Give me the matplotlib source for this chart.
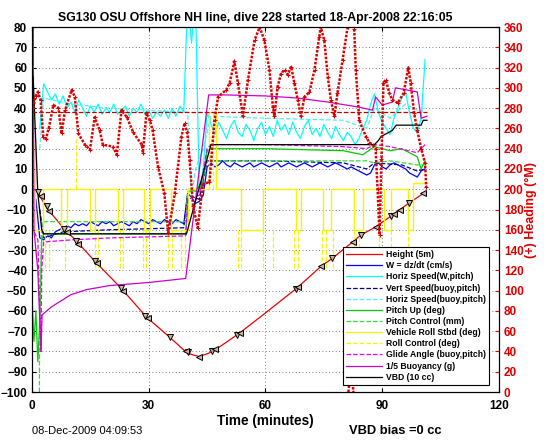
import numpy as np
import matplotlib.pyplot as plt

plt.rcParams['font.family'] = ['Liberation Sans', 'DejaVu Sans']
plt.rcParams['font.weight'] = 'bold'
plt.rcParams['axes.linewidth'] = 0.8

nan = np.nan

# ---- dive data, left axis units (minutes) ----
# height (depth / 5 m)
t_height = [0, 1, 1.6, 3.8, 8.3, 11.4, 16.1, 23, 29.4, 35.4, 39.7, 41.5, 43, 44.5, 46.5, 53.3,
            60, 67.9, 74.3, 77.2, 82.4, 84.5, 88.4, 92.6, 96.9, 101]
height = [0, -0.5, -1.9, -9.3, -19.6, -25.5, -35.4, -49, -63, -73, -80.5, -81.8, -82.5, -81.5, -80, -71,
          -61, -49, -38, -34, -26, -22.6, -18.5, -12.7, -6.8, -1.5]

# triangle markers on the height trace
tri_down_t = [1.6, 3.8, 8.3, 11.4, 16.1, 22.8, 29.1, 35.4, 40.1, 46.3, 52.8, 67.9, 77.2, 84.5, 92.3, 96.9]
tri_down_v = [-1.5, -8.5, -19.6, -25.5, -35.4, -48.6, -62.5, -73, -80.5, -80, -72, -49, -34, -22.6, -13, -6.8]
tri_left_t = [2.4, 4.4, 8.9, 11.9, 16.7, 23.5, 29.7, 39.5, 43, 47, 53.5, 68.4, 74.3, 82.4, 88.4, 92.9, 94.5, 100.5]
tri_left_v = [-3.5, -10.5, -21, -27, -36.5, -50, -63.5, -80, -82.5, -79, -71, -48.2, -38, -26, -18.5, -12.2, -10, -2]

# one-minute samples, minute 0 .. 102
w_dzdt = [nan, -5, -24, -25, -23, -24, -21, -20, -19, -18, -19, -17, -18, -17, -18, -16, -17, -18, -16, -17,
          -16, -18, -17, -16, -17, -18, -16, -17, -15, -16, -17, -15, -16, -17, -15, -16, -17, -15, -16, -17,
          -2, -4, -7, -6, -3, 11, 13, 11, 12, 14, 12, 11, 13, 12, 11, 12, 13, 11, 12, 13,
          12, 11, 12, 13, 11, 12, 13, 12, 11, 12, 13, 12, 11, 12, 13, 12, 11, 12, 13, 12,
          11, 10, 11, 10, 9, 8, 7, 8, 12, 13, 11, 10, 12, 13, 12, 11, 10, 8, 7, 6,
          9, 10, nan]
horiz_speed = [nan, nan, 30, 52, 48, 44, 47, 42, 46, 40, 43, 38, 44, 40, 36, 41, 38, 42, 37, 40,
               38, 42, 37, 39, 41, 36, 40, 38, 42, 37, 39, 35, 38, 36, 39, 35, 40, 36, 41, 38,
               95, 72, 95, -3, 10, 38, 32, 27, 33, 29, 25, 31, 34, 28, 26, 32, 29, 24, 30, 33,
               27, 31, 26, 34, 29, 32, 27, 33, 28, 25, 31, 34, 27, 30, 26, 32, 28, 25, 31, 27,
               24, 28, 26, 22, 25, 30, 34, 42, 47, 38, 33, 30, 27, 35, 40, 45, 48, 38, 30, 28,
               35, 64, nan]

# slower model outputs (breakpoints)
t_vspeed = [2, 3, 8, 20, 39, 40, 43, 45, 60, 80, 86, 88, 95, 99, 101]
vspeed = [-10, -24, -21, -20, -19, -3, -5, 14, 14, 13, 10, 13, 12, 9, 10]
t_hspeed_b = [2, 3, 10, 20, 39, 40, 41, 42, 44, 46, 60, 80, 86, 88, 92, 96, 100, 101]
hspeed_b = [20, 45, 42, 40, 38, 38, -5, 10, 20, 36, 35, 34, 30, 40, 35, 42, 38, 40]
t_pitch = [0, 0.5, 1, 1.5, 2, 2.5, 3, 10, 20, 39.5, 40.3, 42, 43, 44, 45, 46, 60, 80, 85, 88, 92, 95,
           99, 100, 101]
pitch = [-52, -75, -60, -85, -65, -25, -22, -22, -22, -22, 0, -1, 2, 5, 19, 20, 20, 19, 17, 21, 19, 20,
         16, 10, 14]
t_pitch_ctl = [1.9, 1.95, 2.5, 39.5, 40, 43, 45, 46, 86, 88, 92, 99, 101]
pitch_ctl = [-100, -70, -16, -16, -1, -1, 14, 14, 14, 13, 14, 12, 12]
t_roll = [0, 0.8, 2.8, 7.5, 9.1, 14.8, 16.1, 22.1, 23.3, 28.9, 30.2, 35.7, 40, 43, 45.5, 47.4, 53.8,
          59.3, 67.9, 69.1, 74.7, 76.8, 82.8, 85, 90.5, 92.3, 96.5, 98, 101.5]
roll = [22, -20, 0, -20, 0, -20, 0, -20, 0, -20, 0, -20, 0, 0, 38, 0, -20,
        0, -20, 0, -20, 0, -20, 0, -20, 0, -20, 3, 3]
# roll control spikes: (minute, from, to)
roll_ctl_spikes = [(3.3, -20, -40), (4.4, -20, -40), (8.5, -20, -40), (16.1, -20, -40), (16.9, -20, -40),
                   (22.6, -20, -40), (23.3, -20, -40), (28.6, -20, -40), (29.4, -20, -40), (35, -20, -40),
                   (36, -20, -40), (38.4, -20, -40), (39.2, -20, -40), (52.9, -20, -40), (53.8, -20, -40),
                   (59.3, -20, -40), (61.9, -20, -40), (67.4, -20, -40), (68.3, -20, -40), (74.6, -20, -40),
                   (75.6, -20, -40), (77.3, -20, -40), (82.8, -20, -40), (84.1, -20, -40), (89.2, -20, -40),
                   (92.2, -20, -40), (96.5, -20, -40), (0.8, 0, 25), (11.2, 0, 25), (46.5, 0, 38)]
t_glide = [0.3, 0.35, 1.5, 2.3, 2.5, 3, 10, 20, 39.5, 40, 43, 45, 46, 60, 80, 86, 88, 92, 99, 101]
glide = [80, -20, -25, -80, -40, -26, -25, -24, -23, -5, -3, 20, 22, 22, 21, 20, 22, 21, 18, 22]
t_buoy = [0, 0.3, 0.5, 1.5, 2.3, 2.6, 5, 10, 14, 20, 30, 39.5, 45.4, 50, 60, 68, 76, 84, 87.5, 88.3,
          90, 92.6, 93.4, 99, 100, 101.5]
buoy = [95, 90, -20, -40, -80, -62, -58, -52, -49.5, -47.5, -46, -44, 46.5, 46.5, 46, 45, 43, 40.5, 39, 45.5,
        41.5, 43, 50, 48, 35, 36]
t_vbd = [0, 0.3, 1.5, 2.5, 3, 39.7, 46, 88, 89, 89.7, 92.6, 93.6, 100, 100.5, 101.5]
vbd = [57, 55, -2, -20, -22, -22, 22, 22, 24, 26, 29, 31.6, 31.6, 34, 34]

# heading (deg magnetic), right axis; nan breaks at the 360/0 wrap
t_heading = [0.3, 1.0, 1.5, 2.2, 2.9, 3.6, 4.3, 5.5, 6.8, 7.6, 8.5, 10.2, 11, 11.9, 13.6, 14.9, 16.1, 17.4,
             18.2, 20.8, 21.8, 23, 24.4, 26, 28.2, 28.5, 29.4, 30.3, 31, 32.4, 34, 35, 36.7, 38.4, 39.2,
             39.9, 40.5, 41.4, 42.6, 43.9, 45.6, 46.9, 47.8, 49.9, 50.8, 52, 52.9, 54.2, 55.5, 57.2, 58.5,
             59.7, 61, 61.9, 62.3, 63.1, 64, 64.9, 65.7, 66.6, 67.4, 68.3, 69.1, 70, 71.3, 72.6, 73.8, 74.2,
             75.1, 76, 76.8, 77.7, 78.5, 79.8, 81.1, 81.2, 81.3, 81.7, 82, 82.3, 82.6, 82.7, 82.8, 83.2, 84.1,
             85.8, 86.7, 87.5, 88.3, 88.8, 89.3, 89.8, 90.3, 90.9, 91.8, 92.6, 94, 95.5, 96.7, 97.3, 98.2,
             99, 100, 101, 101.3]
heading = [280, 292, 296, 288, 252, 250, 260, 283, 280, 255, 278, 298, 291, 255, 244, 239, 271, 258,
           244, 242, 234, 278, 271, 256, 244, 236, 275, 268, 258, 222, 196, 157, 196, 252, 265,
           256, 229, 183, 162, 205, 207, 268, 291, 298, 305, 326, 305, 272, 308, 347, 360,
           347, 318, 281, 272, 301, 314, 318, 313, 321, 305, 288, 272, 291, 296, 318, 350, 360,
           347, 311, 288, 272, 295, 327, 360, nan, 0, 15, 28, 12, 0, nan, 358, 318, 268,
           252, 246, 244, 240, 200, 155, 230, 305, 308, 295, 288, 285, 295, 320, 305, 275,
           258, 240, 226, 202]
target_heading = 276
dive_end = 101.5

labels = ['Height (5m)', 'W = dz/dt (cm/s)', 'Horiz Speed(W,pitch)', 'Vert Speed(buoy,pitch)',
          'Horiz Speed(buoy,pitch)', 'Pitch Up (deg)', 'Pitch Control (mm)', 'Vehicle Roll Stbd (deg)',
          'Roll Control (deg)', 'Glide Angle (buoy,pitch)', '1/5 Buoyancy (g)', 'VBD (10 cc)']

fig = plt.figure(figsize=(5.46, 4.42), dpi=100)
ax = fig.add_axes([0.0586, 0.1131, 0.8553, 0.8258])

mins = np.arange(len(w_dzdt))
lw = 0.9
h = []
h += ax.plot(t_height, height, color='#ee0000', lw=lw)
h += ax.plot(mins, w_dzdt, color='#0000ff', lw=lw)
h += ax.plot(np.arange(len(horiz_speed)), horiz_speed, color='#00ffff', lw=lw)
h += ax.plot(t_vspeed, vspeed, color='#00008b', lw=lw, ls='--')
h += ax.plot(t_hspeed_b, hspeed_b, color='#55eeee', lw=lw, ls='--')
h += ax.plot(t_pitch, pitch, color='#00cc00', lw=lw)
h += ax.plot(t_pitch_ctl, pitch_ctl, color='#33dd33', lw=lw, ls='--')
h += ax.plot(t_roll, roll, color='#f5f500', lw=lw, drawstyle='steps-post')
h += ax.plot(t_roll, roll, color='#f5f500', lw=lw, ls='--', drawstyle='steps-post')
for tt, lo, hi in roll_ctl_spikes:
    ax.plot([tt, tt], [lo, hi], color='#f5f500', lw=lw, ls='--')
h += ax.plot(t_glide, glide, color='#ee00ee', lw=lw, ls='--')
h += ax.plot(t_buoy, buoy, color='#cc00cc', lw=lw)
h += ax.plot(t_vbd, vbd, color='black', lw=lw)
ax.plot(tri_down_t, tri_down_v, 'v', ms=4.5, mfc='#c8b4a0', mec='black', mew=0.7)
ax.plot(tri_left_t, tri_left_v, '<', ms=4.5, mfc='#c8b4a0', mec='black', mew=0.7)

ax.set_xlim(0, 120)
ax.set_ylim(-100, 80)
ax.set_xticks([0, 30, 60, 90, 120])
ax.set_yticks(np.arange(-100, 81, 10))
ax.tick_params(direction='in', labelsize=8.5, top=True, length=3)
ax.tick_params(axis='x', pad=6)
ax.grid(True, ls=(0, (1, 3)), color='#555555', lw=0.6)
ax.set_xlabel('Time (minutes)', fontsize=9.8, fontweight='bold', labelpad=1)
ax.set_title('SG130 OSU Offshore NH line, dive 228 started 18-Apr-2008 22:16:05',
             fontsize=8.8, fontweight='bold', pad=4, x=0.477)

ax2 = ax.twinx()
ax2.plot([0, dive_end], [target_heading, target_heading], color='#bb0000', lw=0.9, ls='--')
ax2.plot(t_heading, heading, color='#dd0000', lw=1.8, ls=(0, (1, 0.6)))
ax2.plot(t_heading, heading, '+', color='#dd0000', ms=3, mew=0.8)
ax2.set_ylim(0, 360)
ax2.set_yticks(np.arange(0, 361, 20))
ax2.tick_params(direction='in', colors='#dd0000', labelsize=8.5, length=3)
ax2.spines['right'].set_color('black')
ax2.set_ylabel('(+) Heading (\u00b0M)', color='#dd0000', fontsize=9, fontweight='bold', labelpad=1)

leg = ax2.legend(h, labels, loc='lower right', bbox_to_anchor=(0.988, 0.008), fontsize=6.2,
                 frameon=True, fancybox=False, edgecolor='black', framealpha=1,
                 handlelength=4.2, labelspacing=0.25, borderpad=0.35, handletextpad=0.5)
leg.get_frame().set_linewidth(0.8)

fig.text(0.058, 0.018, '08-Dec-2009 04:09:53', fontsize=8, fontweight='normal')
fig.text(0.64, 0.018, 'VBD bias =0 cc', fontsize=9.3, fontweight='bold')

plt.savefig('out.png', dpi=100)
